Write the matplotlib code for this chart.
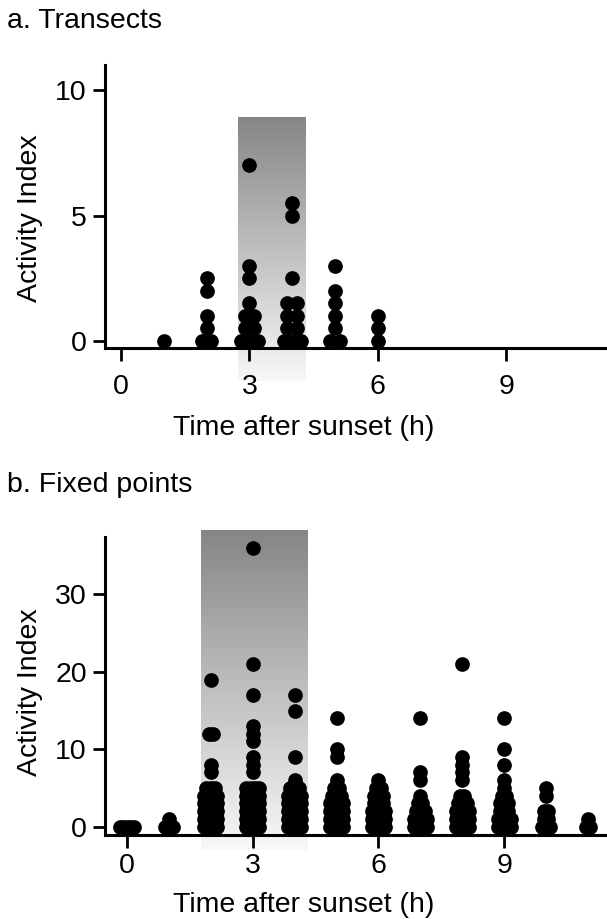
import numpy as np
import matplotlib.pyplot as plt
from matplotlib import font_manager
from matplotlib.colors import LinearSegmentedColormap

# a. transects: activity index per hour after sunset
transect_hours = [1, 2, 3, 4, 5, 6]
transect_values = [
    [0],
    [0, 0, 0.5, 1, 2, 2.5],
    [0, 0, 0, 0.5, 0.5, 1, 1, 1.5, 2.5, 3, 7],
    [0, 0, 0, 0.5, 0.5, 1, 1, 1.5, 1.5, 2.5, 5, 5.5],
    [0, 0, 0.5, 1, 1.5, 2, 3],
    [0, 0.5, 1],
]
transect_peak = (2.73, 4.3, 8.9)

# b. fixed points
fixed_hours = list(range(12))
fixed_values = [
    [0, 0, 0, 0, 0],
    [0, 0, 0, 1],
    [0] * 6 + [1] * 5 + [2] * 5 + [3] * 4 + [4] * 4 + [5] * 3 + [7, 8, 12, 12, 19],
    [0] * 7 + [1] * 6 + [2] * 6 + [3] * 5 + [4] * 5 + [5] * 4 + [7, 8, 9, 11, 12, 13, 17, 21, 36],
    [0] * 6 + [1] * 6 + [2] * 5 + [3] * 4 + [4] * 4 + [5] * 3 + [6, 9, 15, 17],
    [0] * 6 + [1] * 5 + [2] * 4 + [3] * 4 + [4] * 3 + [5] * 2 + [6, 9, 10, 14],
    [0] * 5 + [1] * 5 + [2] * 4 + [3] * 3 + [4] * 3 + [5] * 2 + [6],
    [0] * 5 + [1] * 4 + [2] * 3 + [3] * 2 + [4, 6, 7, 14],
    [0] * 5 + [1] * 4 + [2] * 4 + [3] * 3 + [4] * 2 + [6, 7, 8, 9, 21],
    [0] * 5 + [1] * 4 + [2] * 3 + [3] * 3 + [4] * 2 + [5, 6, 8, 10, 14],
    [0, 0, 0, 1, 1, 2, 2, 4, 5],
    [0, 0, 1],
]
fixed_peak = (1.76, 4.3, 38.3)

names = {f.name for f in font_manager.fontManager.ttflist}
tick_font = 'Liberation Sans Narrow' if 'Liberation Sans Narrow' in names else 'Liberation Sans'
plt.rcParams['font.family'] = ['Liberation Sans', 'DejaVu Sans']

shade_cmap = LinearSegmentedColormap.from_list('shade', ['#f8f8f8', '#868686'])


def swarm_x(hour, values, step, max_half):
    # spread equal values sideways so they don't sit on top of each other
    vals = np.asarray(values, float)
    xs = np.full(len(vals), float(hour))
    for v in np.unique(vals):
        idx = np.where(vals == v)[0]
        n = len(idx)
        if n > 1:
            half = min((n - 1) * step / 2, max_half)
            xs[idx] += np.linspace(-half, half, n)
    return xs


def panel(ax, hours, values, peak, xlim, ylim, yticks, shade_bottom, step, max_half, xpad):
    x0, x1, top = peak
    grad = np.linspace(1, 0, 256).reshape(-1, 1)
    ax.imshow(grad, cmap=shade_cmap, extent=(x0, x1, shade_bottom, top),
              aspect='auto', zorder=0, clip_on=False, vmin=0, vmax=1)
    for h, vals in zip(hours, values):
        ax.scatter(swarm_x(h, vals, step, max_half), vals, s=112, color='black',
                   linewidths=0, zorder=3, clip_on=False)
    ax.set_xlim(*xlim)
    ax.set_ylim(*ylim)
    ax.set_xticks([0, 3, 6, 9])
    ax.set_yticks(yticks)
    for s in ['top', 'right']:
        ax.spines[s].set_visible(False)
    for s in ['left', 'bottom']:
        ax.spines[s].set_linewidth(2.2)
    ax.tick_params(axis='both', length=9, width=2, labelsize=20.5)
    ax.tick_params(axis='x', pad=xpad)
    ax.tick_params(axis='y', pad=4)
    for lab in ax.get_xticklabels() + ax.get_yticklabels():
        lab.set_fontfamily(tick_font)
    ax.set_xlabel('Time after sunset (h)', fontsize=20.5)
    ax.set_ylabel('Activity Index', fontsize=20.5)


fig = plt.figure(figsize=(6.07, 9.19), dpi=100)
ax1 = fig.add_axes([0.173, 0.6213, 0.827, 0.308])
ax2 = fig.add_axes([0.173, 0.0914, 0.827, 0.3243])

panel(ax1, transect_hours, transect_values, transect_peak, (-0.37, 11.35), (-0.28, 11),
      [0, 5, 10], -1.6, 0.22, 0.2, 9.5)
panel(ax2, fixed_hours, fixed_values, fixed_peak, (-0.52, 11.45), (-1.07, 37.4),
      [0, 10, 20, 30], -3.0, 0.1, 0.16, 4)

ax1.xaxis.set_label_coords(0.395, -0.235)
ax2.xaxis.set_label_coords(0.395, -0.192)
ax1.yaxis.set_label_coords(-0.124, 0.46)
ax2.yaxis.set_label_coords(-0.124, 0.48)

fig.text(0.012, 0.969, 'a. Transects', fontsize=20.5, va='baseline')
fig.text(0.012, 0.465, 'b. Fixed points', fontsize=20.5, va='baseline')

fig.savefig('out.png', dpi=100)
